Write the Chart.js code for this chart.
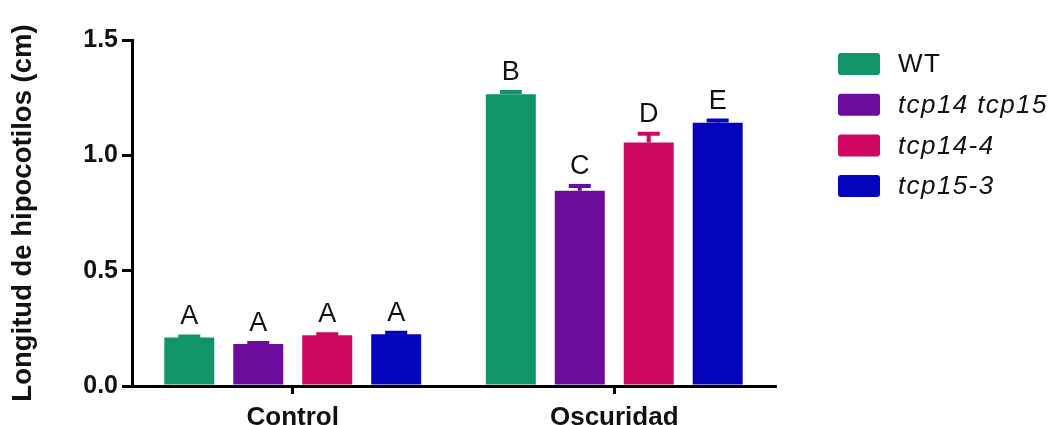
<!DOCTYPE html>
<html>
<head>
<meta charset="utf-8">
<script src="https://cdn.jsdelivr.net/npm/chart.js@4"></script>
<style>
  html, body { margin: 0; padding: 0; background: #fff; }
  #wrap { width: 1053px; height: 425px; }
</style>
</head>
<body>
<div id="wrap"><canvas id="chart" width="1053" height="425"></canvas></div>
<script>
// data
const groups = ['Control', 'Oscuridad'];
const genotypes = ['WT', 'tcp14 tcp15', 'tcp14-4', 'tcp15-3'];
const wtValues = [0.21, 1.265];
const dblValues = [0.182, 0.847];
const tcp14Values = [0.22, 1.056];
const tcp15Values = [0.224, 1.141];
const wtErr = [0.005, 0.01];
const dblErr = [0.004, 0.02];
const tcp14Err = [0.004, 0.038];
const tcp15Err = [0.007, 0.01];
const wtLetters = ['A', 'B'];
const dblLetters = ['A', 'C'];
const tcp14Letters = ['A', 'D'];
const tcp15Letters = ['A', 'E'];
const yTicks = [0, 0.5, 1.0, 1.5];

const colors = ['#12946a', '#6c0b9c', '#cf0762', '#0404bf'];
const FONT = '"Liberation Sans", Arial, sans-serif';

const values = [wtValues, dblValues, tcp14Values, tcp15Values];
const errs = [wtErr, dblErr, tcp14Err, tcp15Err];
const letters = [wtLetters, dblLetters, tcp14Letters, tcp15Letters];

// error bars + significance letters
const errorBars = {
    id: 'errorBars',
    afterDatasetsDraw(chart) {
        const ctx = chart.ctx;
        const y = chart.scales.y;
        ctx.save();
        chart.data.datasets.forEach((ds, i) => {
            const meta = chart.getDatasetMeta(i);
            meta.data.forEach((bar, j) => {
                const top = y.getPixelForValue(ds.data[j] + ds.err[j]);
                ctx.strokeStyle = ds.backgroundColor;
                ctx.lineWidth = 4;
                ctx.beginPath();
                ctx.moveTo(bar.x, bar.y);
                ctx.lineTo(bar.x, top);
                ctx.moveTo(bar.x - 11, top);
                ctx.lineTo(bar.x + 11, top);
                ctx.stroke();
                ctx.fillStyle = '#111';
                ctx.font = '27px ' + FONT;
                ctx.textAlign = 'center';
                ctx.textBaseline = 'alphabetic';
                ctx.fillText(ds.letters[j], bar.x, top - 12);
            });
        });
        ctx.restore();
    }
};

// legend with italic genotype names
const sideLegend = {
    id: 'sideLegend',
    afterDraw(chart) {
        const ctx = chart.ctx;
        ctx.save();
        chart.data.datasets.forEach((ds, i) => {
            const cy = 64 + i * 40.7;
            ctx.fillStyle = ds.backgroundColor;
            ctx.beginPath();
            ctx.roundRect(838, cy - 11, 42, 22, 3);
            ctx.fill();
            ctx.fillStyle = '#111';
            ctx.font = (i === 0 ? '' : 'italic ') + '26px ' + FONT;
            ctx.letterSpacing = '1.4px';
            ctx.textAlign = 'left';
            ctx.textBaseline = 'middle';
            ctx.fillText(ds.label, 898, cy + 1);
        });
        ctx.restore();
    }
};

new Chart(document.getElementById('chart'), {
    type: 'bar',
    data: {
        labels: groups,
        datasets: genotypes.map((g, i) => ({
            label: g,
            data: values[i],
            err: errs[i],
            letters: letters[i],
            backgroundColor: colors[i],
            borderWidth: 0,
            categoryPercentage: 0.858,
            barPercentage: 0.725
        }))
    },
    options: {
        responsive: false,
        devicePixelRatio: 1,
        animation: false,
        layout: { padding: { left: 0, right: 278, top: 40, bottom: 0 } },
        plugins: {
            legend: { display: false },
            tooltip: { enabled: false }
        },
        scales: {
            x: {
                afterFit(scale) { scale.height = 39; },
                grid: {
                    offset: false,
                    drawOnChartArea: false,
                    drawTicks: true,
                    tickLength: 8,
                    lineWidth: 3,
                    color: '#000'
                },
                border: { color: '#000', width: 3 },
                ticks: {
                    color: '#111',
                    padding: 8,
                    font: { family: FONT, size: 26, weight: 'bold' }
                }
            },
            y: {
                min: 0,
                max: 1.5,
                afterFit(scale) { scale.width = 132; },
                afterBuildTicks(scale) { scale.ticks = yTicks.map(v => ({ value: v })); },
                grid: {
                    drawOnChartArea: false,
                    drawTicks: true,
                    tickLength: 10,
                    lineWidth: 3,
                    color: '#000'
                },
                border: { color: '#000', width: 3 },
                ticks: {
                    color: '#111',
                    padding: 4,
                    font: { family: FONT, size: 25, weight: 'bold' },
                    callback: v => Number(v).toFixed(1)
                },
                title: {
                    display: true,
                    text: 'Longitud de hipocotilos (cm)',
                    color: '#111',
                    padding: { top: 7, bottom: 0 },
                    font: { family: FONT, size: 27.5, weight: 'bold' }
                }
            }
        }
    },
    plugins: [errorBars, sideLegend]
});
</script>
</body>
</html>
